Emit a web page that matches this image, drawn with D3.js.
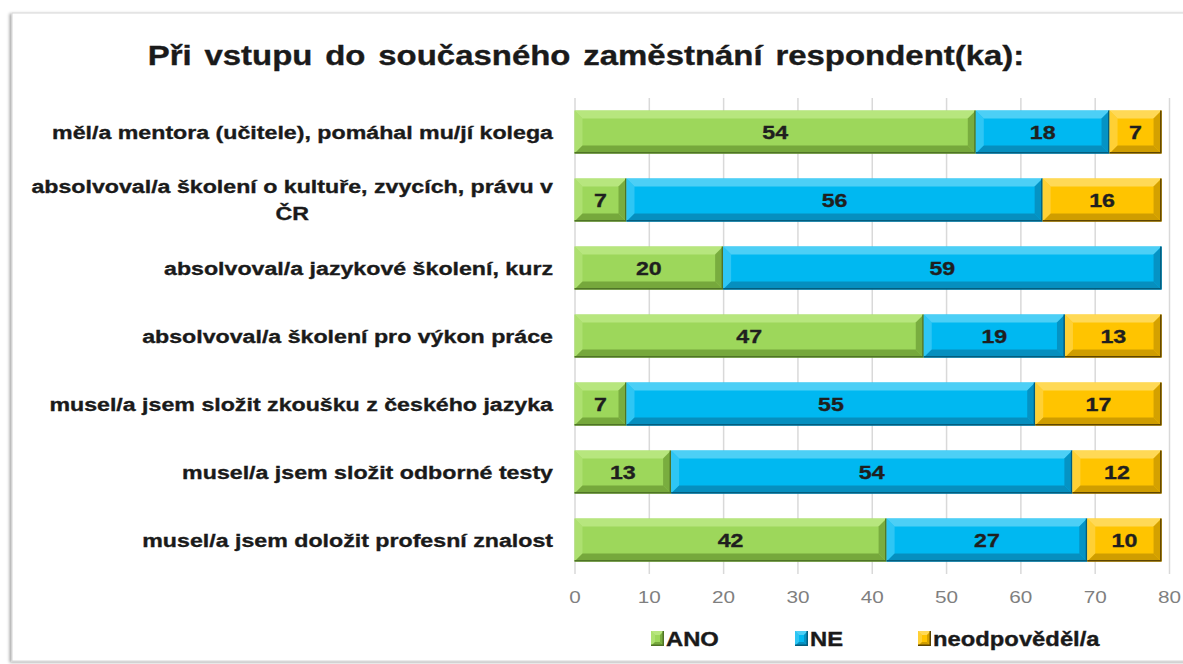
<!DOCTYPE html>
<html>
<head>
<meta charset="utf-8">
<script src="https://cdn.jsdelivr.net/npm/d3@7"></script>
<style>
  body { margin: 0; background: #fff; }
  svg { display: block; font-family: "Liberation Sans", Arial, sans-serif; }
</style>
</head>
<body>
<div id="chart"></div>
<script>
// data
const categories = [
  "měl/a mentora (učitele), pomáhal mu/jí kolega",
  "absolvoval/a školení o kultuře, zvycích, právu v ČR",
  "absolvoval/a jazykové školení, kurz ",
  "absolvoval/a školení pro výkon práce",
  "musel/a jsem složit zkoušku z českého jazyka",
  "musel/a jsem složit odborné testy",
  "musel/a jsem doložit profesní znalost"
];
const ano = [54, 7, 20, 47, 7, 13, 42];
const ne = [18, 56, 59, 19, 55, 54, 27];
const neodpovedel = [7, 16, 0, 13, 17, 12, 10];
const seriesNames = ["ANO", "NE", "neodpověděl/a"];
const xTicks = [0, 10, 20, 30, 40, 50, 60, 70, 80];
const title = "Při vstupu do současného zaměstnání respondent(ka):";

const width = 1183;
const height = 664;
const plot = { left: 574.5, right: 1169, top: 98, bottom: 574 };
const sx = 1.22; // the original text looks horizontally stretched

// face / light / dark tones for the bevelled bars
const palette = [
  { face: "#9dd75b", light: "#b7e67e", dark: "#76a83c", edge: "#4f7426" },
  { face: "#00b8f1", light: "#4ccff6", dark: "#068fbf", edge: "#035d7e" },
  { face: "#ffc400", light: "#ffd956", dark: "#cf9d00", edge: "#5e4500" }
];

const svg = d3.select("#chart").append("svg")
  .attr("width", width)
  .attr("height", height);

// text placed at (x, y) and stretched horizontally around that point
function wideText(parent, x, y, anchor, size, weight, fill) {
  const t = parent.append("text")
    .attr("transform", `translate(${x},${y}) scale(${sx},1)`)
    .attr("text-anchor", anchor)
    .attr("dy", "0.36em")
    .style("font-size", size + "px")
    .style("font-weight", weight)
    .attr("fill", fill);
  if (weight === "bold") t.attr("stroke", fill).attr("stroke-width", 0.35);
  return t;
}

// outer frame with a soft shadow
const defs = svg.append("defs");
const shadow = defs.append("filter").attr("id", "shadow")
  .attr("x", "-5%").attr("y", "-5%").attr("width", "110%").attr("height", "110%");
shadow.append("feDropShadow")
  .attr("dx", -2).attr("dy", 1).attr("stdDeviation", 1.5)
  .attr("flood-color", "#000").attr("flood-opacity", 0.35);

svg.append("rect")
  .attr("x", 12).attr("y", 13)
  .attr("width", 1190).attr("height", 648)
  .attr("fill", "#fff")
  .attr("stroke", "#d6d6d6")
  .attr("filter", "url(#shadow)");

// title
wideText(svg, 586, 55, "middle", 27, "bold", "#1a1a1a")
  .style("word-spacing", "3px")
  .text(title);

const x = d3.scaleLinear().domain([0, 80]).range([plot.left, plot.right]);
const y = d3.scaleBand().domain(categories)
  .range([plot.top, plot.bottom])
  .paddingInner(0.37).paddingOuter(0.185);

// gridlines + tick labels
const xAxis = d3.axisBottom(x)
  .tickValues(xTicks)
  .tickSize(-(plot.bottom - plot.top))
  .tickFormat("");

const axisG = svg.append("g")
  .attr("transform", `translate(0, ${plot.bottom})`)
  .call(xAxis);
axisG.select(".domain").remove();
axisG.selectAll(".tick line").attr("stroke", "#d9d9d9").attr("stroke-width", 1.5);
axisG.selectAll(".tick").each(function(d) {
  wideText(d3.select(this), 0, 23, "middle", 17, "normal", "#7f7f7f").text(d);
});

// stacked data
const rows = categories.map((c, i) => ({ cat: c, ANO: ano[i], NE: ne[i], "neodpověděl/a": neodpovedel[i] }));
const stacked = d3.stack().keys(seriesNames)(rows);

function bevelBox(g, x0, y0, w, h, col, b) {
  g.append("rect").attr("x", x0).attr("y", y0).attr("width", w).attr("height", h).attr("fill", col.face);
  const pts = (arr) => arr.map(p => p.join(",")).join(" ");
  // top
  g.append("polygon").attr("fill", col.light)
    .attr("points", pts([[x0, y0], [x0 + w, y0], [x0 + w - b, y0 + b], [x0 + b, y0 + b]]));
  // left
  g.append("polygon").attr("fill", col.light).attr("opacity", 0.6)
    .attr("points", pts([[x0, y0], [x0 + b, y0 + b], [x0 + b, y0 + h - b], [x0, y0 + h]]));
  // bottom
  g.append("polygon").attr("fill", col.dark)
    .attr("points", pts([[x0, y0 + h], [x0 + b, y0 + h - b], [x0 + w - b, y0 + h - b], [x0 + w, y0 + h]]));
  // right
  g.append("polygon").attr("fill", col.dark).attr("opacity", 0.9)
    .attr("points", pts([[x0 + w, y0], [x0 + w, y0 + h], [x0 + w - b, y0 + h - b], [x0 + w - b, y0 + b]]));
  // dark edge on bottom and right
  g.append("path")
    .attr("d", `M${x0},${y0 + h - 0.75}H${x0 + w - 0.75}V${y0}`)
    .attr("fill", "none").attr("stroke", col.edge).attr("stroke-width", 1.5);
}

const barsG = svg.append("g");
stacked.forEach((layer, si) => {
  layer.forEach((d, i) => {
    const v = d[1] - d[0];
    if (v <= 0) return;
    const x0 = x(d[0]);
    const w = x(d[1]) - x0;
    const g = barsG.append("g");
    bevelBox(g, x0, y(categories[i]), w, y.bandwidth(), palette[si], 8);
    wideText(g, x0 + w / 2, y(categories[i]) + y.bandwidth() / 2, "middle", 19, "bold", "#1f1f1f")
      .text(v);
  });
});

// category labels, wrapped like the original (lines centred, block right aligned)
const labelRight = 553;
const maxLabelWidth = 530 / sx;
const labelsG = svg.append("g");
categories.forEach(c => {
  const cy = y(c) + y.bandwidth() / 2;
  const t = wideText(labelsG, labelRight, cy, "end", 19, "bold", "#1a1a1a")
    .attr("dy", null);
  const words = c.split(" ");
  let lines = [];
  let line = [];
  words.forEach(wd => {
    line.push(wd);
    t.text(line.join(" ").trim());
    if (t.node().getComputedTextLength() > maxLabelWidth && line.length > 1) {
      line.pop();
      lines.push(line.join(" "));
      line = [wd];
    }
  });
  lines.push(line.join(" "));
  const widths = lines.map(l => {
    t.text(l.trim());
    return t.node().getComputedTextLength();
  });
  t.text(null);
  const blockW = d3.max(widths);
  const lh = 27;
  lines.forEach((l, li) => {
    t.append("tspan")
      .attr("x", lines.length > 1 ? -blockW / 2 : 0)
      .attr("text-anchor", lines.length > 1 ? "middle" : "end")
      .attr("y", (li - (lines.length - 1) / 2) * lh)
      .attr("dy", "0.36em")
      .text(lines.length > 1 ? l.trim() : l);
  });
});

// legend
const legendItems = [
  { name: "ANO", x: 651 },
  { name: "NE", x: 795 },
  { name: "neodpověděl/a", x: 918 }
];
const legendG = svg.append("g");
legendItems.forEach((it, i) => {
  const g = legendG.append("g");
  bevelBox(g, it.x, 631, 13, 15, palette[i], 4);
  wideText(g, it.x + 15, 639, "start", 19.5, "bold", "#1a1a1a").text(it.name);
});
</script>
</body>
</html>
